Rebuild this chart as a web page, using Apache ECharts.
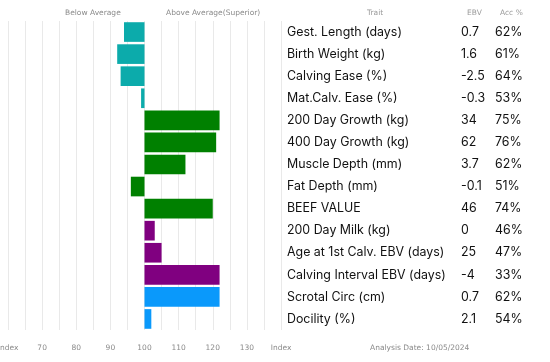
<!DOCTYPE html>
<html><head><meta charset="utf-8">
<script src="https://cdn.jsdelivr.net/npm/echarts@6/dist/echarts.min.js"></script>
<style>html,body{margin:0;padding:0;background:#fff}#c{width:550px;height:362px}</style>
</head><body><div id="c"></div>
<script>
const traits = ['Gest. Length (days)','Birth Weight (kg)','Calving Ease (%)','Mat.Calv. Ease (%)','200 Day Growth (kg)','400 Day Growth (kg)','Muscle Depth (mm)','Fat Depth (mm)','BEEF VALUE','200 Day Milk (kg)','Age at 1st Calv. EBV (days)','Calving Interval EBV (days)','Scrotal Circ (cm)','Docility (%)'];
const ebv = ['0.7','1.6','-2.5','-0.3','34','62','3.7','-0.1','46','0','25','-4','0.7','2.1'];
const acc = ['62%','61%','64%','53%','75%','76%','62%','51%','74%','46%','47%','33%','62%','54%'];
const indexValues = [94,92,93,99,122,121,112,96,120,103,105,122,122,102];
const groups = ['calving','calving','calving','calving','growth','growth','growth','growth','growth','fertility','fertility','fertility','other','other'];
const axisTicks = [70,80,90,100,110,120,130];
const baseIndex = 100;
const analysisDate = '10/05/2024';

const groupColors = {calving:'#0cabab', growth:'#008000', fertility:'#800080', other:'#0a99fb'};
const chart = echarts.init(document.getElementById('c'), null, {renderer:'canvas'});
const smallFont = 'DejaVu Sans';
const bigFont = 'Inter';
chart.setOption({
  animation:false,
  grid:{left:8, right:269, top:21, bottom:32, containLabel:false, outerBoundsMode:'none'},
  xAxis:{type:'value', min:-40, max:40, interval:5,
    axisLine:{show:false}, axisTick:{show:false},
    splitLine:{show:true, lineStyle:{color:'#e9e9e9', width:1}},
    axisLabel:{margin:14, color:'#8a8a8a', fontSize:7.5, fontFamily:smallFont,
      formatter:v=>{ if (v===-40||v===40) return 'Index'; const t=v+baseIndex; return axisTicks.includes(t)?String(t):''; }}
  },
  yAxis:{type:'category', inverse:true, position:'right', data:traits,
    axisLine:{show:false}, axisTick:{show:false}, splitLine:{show:false},
    axisLabel:{align:'left', margin:6, fontFamily:bigFont, fontSize:12.4, color:'#111',
      formatter:(v,i)=>'{t|'+v+'}{e|'+ebv[i]+'}{a|'+acc[i]+'}',
      rich:{t:{width:174, fontFamily:bigFont, fontSize:12.4, color:'#111'},
            e:{width:34, fontFamily:bigFont, fontSize:12.4, color:'#111'},
            a:{width:40, fontFamily:bigFont, fontSize:12.4, color:'#111'}}}
  },
  series:[{type:'bar', barCategoryGap:'11%',
    data:indexValues.map((v,i)=>({value:v-baseIndex, itemStyle:{color:groupColors[groups[i]]}}))
  }],
  graphic:[
    {type:'text', left:65, top:9, style:{text:'Below Average', fill:'#8a8a8a', font:'7.5px "DejaVu Sans"'}},
    {type:'text', left:166, top:9, style:{text:'Above Average(Superior)', fill:'#8a8a8a', font:'7.5px "DejaVu Sans"'}},
    {type:'text', left:367, top:9, style:{text:'Trait', fill:'#9a9a9a', font:'7.5px "DejaVu Sans"'}},
    {type:'text', left:467, top:9, style:{text:'EBV', fill:'#9a9a9a', font:'7.5px "DejaVu Sans"'}},
    {type:'text', left:500, top:9, style:{text:'Acc %', fill:'#9a9a9a', font:'7.5px "DejaVu Sans"'}},
    {type:'text', left:370, top:344, style:{text:'Analysis Date: '+analysisDate, fill:'#8a8a8a', font:'7.5px "DejaVu Sans"'}}
  ]
});
</script></body></html>
